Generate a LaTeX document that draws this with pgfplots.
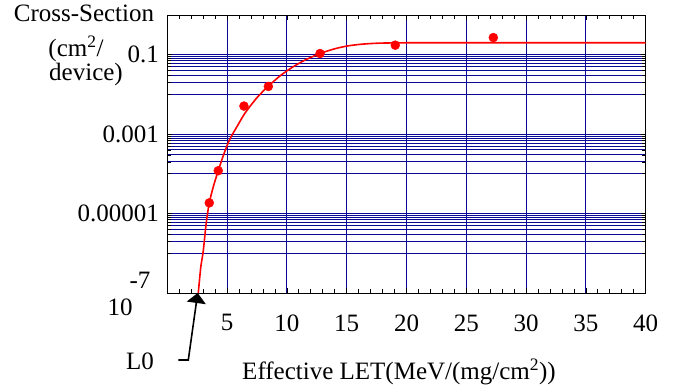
\documentclass[border=0pt]{standalone}
\usepackage{pgfplots}
\pgfplotsset{compat=1.18}
\usepackage{fontspec}
\setmainfont{Liberation Serif}
\usetikzlibrary{arrows.meta}
\definecolor{gridnavy}{RGB}{10,10,150}
\begin{document}
\fontsize{25}{30}\selectfont
\begin{tikzpicture}
\useasboundingbox (0,0) rectangle (683pt,391pt);
\begin{axis}[
  at={(167.3pt,98pt)}, anchor=south west,
  scale only axis, width=478.4pt, height=278pt,
  xmin=0, xmax=40, ymode=log, ymin=1e-7, ymax=1,
  xtick={5,10,...,40}, minor xtick={0,1,...,40},
  ytick={1e-7,1e-5,1e-3,1e-1},
  yticklabels={{},0.00001,0.001,0.1},
  minor ytick={0.01,0.02,0.03,0.04,0.05,0.06,0.07,0.08,0.09,
               1e-4,2e-4,3e-4,4e-4,5e-4,6e-4,7e-4,8e-4,9e-4,
               1e-6,2e-6,3e-6,4e-6,5e-6,6e-6,7e-6,8e-6,9e-6},
  xmajorgrids, ymajorgrids, yminorgrids,
  major grid style={gridnavy, line width=0.9pt},
  minor grid style={gridnavy, line width=0.9pt},
  tick align=inside, tick pos=both,
  major tick length=5pt, minor tick length=4pt,
  tick style={black, line width=0.8pt},
  axis line style={black, line width=1pt},
  /pgf/number format/assume math mode=true,
  xticklabel style={yshift=-13pt},
  log basis y=10,
  clip=true,
]
\addplot[red, line width=1.6pt, smooth, tension=0.4] coordinates {
(2.59,1e-7)(2.8,4.5e-7)(3.0,1.1e-6)(3.25,5.6e-6)(3.5,1.8e-5)(3.85,4.8e-5)
(4.26,1.2e-4)(4.75,3.3e-4)(5.24,7.6e-4)(5.8,1.5e-3)(6.5,3.4e-3)(7.5,8.3e-3)
(8.45,0.0162)(9.5,0.0305)(10.5,0.0493)(11.5,0.073)(12.77,0.1077)(14,0.141)
(15,0.165)(16,0.181)(17,0.191)(18,0.1965)(20,0.1997)(25,0.2)(40,0.2)
};
\addplot[only marks, mark=*, mark size=4.5pt, red, mark options={draw=red, fill=red}] coordinates {
(3.51,1.86e-5)(4.26,1.2e-4)(6.41,5.1e-3)(8.45,0.0159)(12.77,0.107)(19.06,0.174)(27.26,0.27)
};
\end{axis}
\node[inner sep=0pt] at (140pt,111pt) {-7};
\node[inner sep=0pt] at (120pt,84pt) {10};
\node[inner sep=0pt] at (84pt,378pt) {Cross-Section};
\node[inner sep=0pt] at (76pt,342pt) {(cm\textsuperscript{2}/};
\node[inner sep=0pt] at (86pt,317pt) {device)};
\node[inner sep=0pt] at (399pt,19pt) {Effective LET(MeV/(mg/cm\textsuperscript{2}))};
\node[inner sep=0pt] at (140pt,29.3pt) {L0};
\draw[black, line width=1.6pt, -{Triangle[width=19pt,length=10pt]}] (178.3pt,31pt) -- (188.3pt,31pt) -- (197.7pt,98pt);
\end{tikzpicture}
\end{document}
